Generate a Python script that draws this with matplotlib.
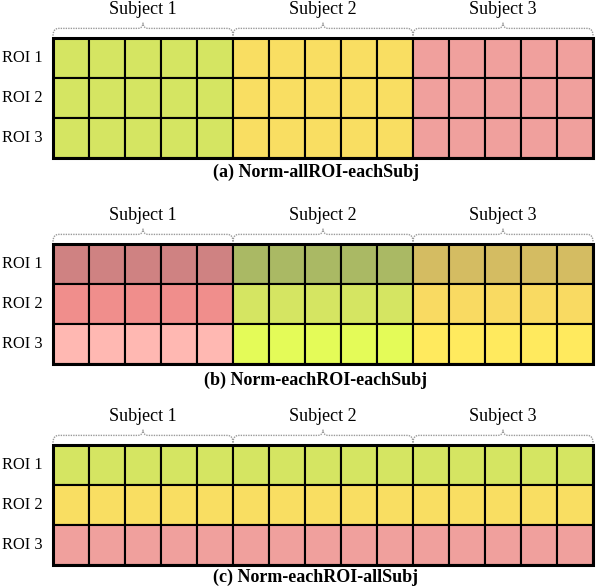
import numpy as np
import matplotlib
matplotlib.use('Agg')
import matplotlib.pyplot as plt
from matplotlib.patches import Rectangle, PathPatch
from matplotlib.path import Path

subjects = ['Subject 1', 'Subject 2', 'Subject 3']
rois = ['ROI 1', 'ROI 2', 'ROI 3']
n_per_subj = 5
titles = ['(a) Norm-allROI-eachSubj', '(b) Norm-eachROI-eachSubj', '(c) Norm-eachROI-allSubj']

# colour of each (roi, subject) block, one table per panel
colors_a = [['#D5E562', '#F9DE62', '#F0A09D'],
            ['#D5E562', '#F9DE62', '#F0A09D'],
            ['#D5E562', '#F9DE62', '#F0A09D']]
colors_b = [['#CF8282', '#AAB964', '#D4BC62'],
            ['#F08E8C', '#D5E562', '#F9DA62'],
            ['#FFB8B2', '#E4FB58', '#FFEA5E']]
colors_c = [['#D5E562', '#D5E562', '#D5E562'],
            ['#F9DE62', '#F9DE62', '#F9DE62'],
            ['#F0A09D', '#F0A09D', '#F0A09D']]
panels = [colors_a, colors_b, colors_c]

plt.rcParams['font.family'] = ['Liberation Serif', 'DejaVu Serif']

W, H = 600, 588
fig = plt.figure(figsize=(W / 100, H / 100), dpi=100)

grid_left, grid_right = 53, 593
grid_tops = [38, 244, 445]
grid_h = 120
title_y = [172, 380, 577]


def brace(ax, x0, x1, y_end, y_body, y_tip, r=0.15):
    xm = (x0 + x1) / 2
    verts = [(x0, y_end), (x0, y_body), (x0 + r, y_body),
             (xm - r, y_body),
             (xm, y_body), (xm, y_tip),
             (xm, y_body), (xm + r, y_body),
             (x1 - r, y_body),
             (x1, y_body), (x1, y_end)]
    codes = [Path.MOVETO, Path.CURVE3, Path.CURVE3,
             Path.LINETO,
             Path.CURVE3, Path.CURVE3,
             Path.CURVE3, Path.CURVE3,
             Path.LINETO,
             Path.CURVE3, Path.CURVE3]
    ax.add_patch(PathPatch(Path(verts, codes), fill=False, edgecolor='#9a9a9a',
                           lw=1.0, ls=(0, (1, 0.8)), clip_on=False))


ncols = n_per_subj * len(subjects)
for p, cols in enumerate(panels):
    top = grid_tops[p]
    ax = fig.add_axes([grid_left / W, 1 - (top + grid_h) / H,
                       (grid_right - grid_left) / W, grid_h / H])
    ax.set_xlim(0, ncols)
    ax.set_ylim(len(rois), 0)
    ax.axis('off')
    for i in range(len(rois)):
        for s in range(len(subjects)):
            for k in range(n_per_subj):
                c = s * n_per_subj + k
                ax.add_patch(Rectangle((c, i), 1, 1, facecolor=cols[i][s],
                                       edgecolor='black', lw=1.5))
    ax.add_patch(Rectangle((0, 0), ncols, len(rois), fill=False,
                           edgecolor='black', lw=2.2, clip_on=False))
    for i, name in enumerate(rois):
        ax.text(-0.3, i + 0.5, name, ha='right', va='center', fontsize=11.8)
    for s, name in enumerate(subjects):
        x0 = s * n_per_subj
        x1 = x0 + n_per_subj
        brace(ax, x0, x1, -0.06, -0.24, -0.38)
        ax.text((x0 + x1) / 2, -0.72, name, ha='center', va='center', fontsize=13)
    fig.text(316 / W, 1 - title_y[p] / H, titles[p], ha='center', va='center',
             fontsize=13, fontweight='bold')

fig.savefig('out.png', dpi=100)
